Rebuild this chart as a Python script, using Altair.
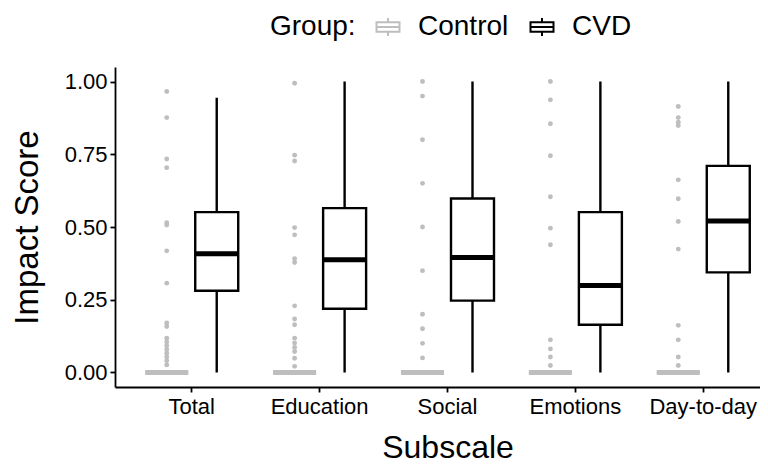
import altair as alt
import pandas as pd

subscales = ["Total", "Education", "Social", "Emotions", "Day-to-day"]
groups = ["Control", "CVD"]

# CVD box statistics
cvd_low = [0.0, 0.0, 0.0, 0.0, 0.0]
cvd_q1 = [0.281, 0.219, 0.247, 0.164, 0.344]
cvd_median = [0.408, 0.387, 0.395, 0.299, 0.521]
cvd_q3 = [0.551, 0.565, 0.598, 0.551, 0.710]
cvd_high = [0.944, 1.0, 1.0, 1.0, 1.0]

# Control box statistics (all collapsed at zero)
control_low = [0.0, 0.0, 0.0, 0.0, 0.0]
control_q1 = [0.0, 0.0, 0.0, 0.0, 0.0]
control_median = [0.0, 0.0, 0.0, 0.0, 0.0]
control_q3 = [0.0, 0.0, 0.0, 0.0, 0.0]
control_high = [0.0, 0.0, 0.0, 0.0, 0.0]

# Control outliers
out_total = [0.966, 0.876, 0.734, 0.704, 0.515, 0.507, 0.418, 0.307, 0.170, 0.158,
             0.118, 0.105, 0.092, 0.079, 0.066, 0.053, 0.040, 0.026]
out_education = [0.994, 0.747, 0.727, 0.498, 0.473, 0.391, 0.378, 0.229, 0.184, 0.164,
                 0.118, 0.101, 0.086, 0.072, 0.049, 0.021]
out_social = [1.0, 0.95, 0.8, 0.65, 0.5, 0.35, 0.2, 0.15, 0.1, 0.05]
out_emotions = [1.0, 0.937, 0.855, 0.745, 0.604, 0.496, 0.439, 0.112, 0.081, 0.053, 0.024]
out_daytoday = [0.914, 0.876, 0.860, 0.849, 0.662, 0.597, 0.519, 0.424, 0.162, 0.112, 0.053, 0.024]

stats = pd.DataFrame({
    "Subscale": subscales * 2,
    "Group": ["Control"] * 5 + ["CVD"] * 5,
    "low": control_low + cvd_low,
    "q1": control_q1 + cvd_q1,
    "median": control_median + cvd_median,
    "q3": control_q3 + cvd_q3,
    "high": control_high + cvd_high,
})

outlier_lists = [out_total, out_education, out_social, out_emotions, out_daytoday]
rows = []
for s, vals in zip(subscales, outlier_lists):
    for v in vals:
        rows.append({"Subscale": s, "Group": "Control", "value": v})
outliers = pd.DataFrame(rows)

FONT = "Liberation Sans"
GRAY = "#bebebe"
stroke_scale = alt.Scale(domain=groups, range=[GRAY, "#000000"])

# The x range runs past the visible plot edge (the reference is cropped at the right)
x_enc = alt.X(
    "Subscale:N",
    sort=subscales,
    scale=alt.Scale(domain=subscales, paddingInner=0, paddingOuter=0.1, range=[0, 665]),
    axis=alt.Axis(title="Subscale", labelAngle=0, titleFontSize=32),
)
xoff_enc = alt.XOffset(
    "Group:N",
    sort=groups,
    scale=alt.Scale(domain=groups, paddingInner=0.14, paddingOuter=0.349),
)
y_scale = alt.Scale(domain=[-0.05, 1.05], nice=False, zero=False)
y_axis = alt.Axis(title="Impact Score", values=[0, 0.25, 0.5, 0.75, 1.0], format=".2f")

box_path = ("M0,-0.78 L0,-0.42 M-1,-0.42 L1,-0.42 L1,0.42 L-1,0.42 Z "
            "M-1,0 L1,0 M0,0.42 L0,0.78")

legend = alt.Legend(
    title="Group:", orient="none", legendX=155, legendY=-54,
    direction="horizontal", titleOrient="left",
    titleFontSize=28, labelFontSize=28, titleFontWeight="normal",
    titleFont=FONT, labelFont=FONT, titleColor="black", labelColor="black",
    symbolType=box_path, symbolSize=529, symbolStrokeWidth=2,
    symbolFillColor="white",
    labelOffset=16, columnPadding=17, titlePadding=18, padding=0,
)
stroke_enc = alt.Stroke("Group:N", scale=stroke_scale, legend=legend)

base = alt.Chart(stats)

whiskers = base.mark_rule(strokeWidth=2.4).encode(
    x=x_enc, xOffset=xoff_enc,
    y=alt.Y("low:Q", scale=y_scale, axis=y_axis),
    y2="high:Q",
    stroke=stroke_enc,
)

boxes = base.mark_bar(fill="white", strokeWidth=2.4).encode(
    x=x_enc, xOffset=xoff_enc,
    y=alt.Y("q1:Q", scale=y_scale, axis=y_axis),
    y2="q3:Q",
    stroke=stroke_enc,
)

medians = base.mark_bar(fill="white", strokeWidth=5).encode(
    x=x_enc, xOffset=xoff_enc,
    y=alt.Y("median:Q", scale=y_scale, axis=y_axis),
    y2="median:Q",
    stroke=stroke_enc,
)

points = alt.Chart(outliers).mark_circle(size=24, opacity=1, color=GRAY).encode(
    x=x_enc, xOffset=xoff_enc,
    y=alt.Y("value:Q", scale=y_scale, axis=y_axis),
)

chart = alt.layer(whiskers, boxes, medians, points).properties(
    width=645,
    height=320,
    autosize=alt.AutoSizeParams(type="none"),
    padding={"left": 107, "top": 59, "right": 0, "bottom": 78},
    background="white",
).configure_view(
    stroke=None,
).configure_axis(
    grid=False,
    domainColor="black",
    domainWidth=1.8,
    tickColor="black",
    tickWidth=1.8,
    tickSize=5,
    labelFont=FONT,
    titleFont=FONT,
    labelFontSize=22,
    titleFontSize=33,
    titleFontWeight="normal",
    labelColor="black",
    titleColor="black",
).configure_axisX(
    labelPadding=4,
    titlePadding=15,
).configure_axisY(
    labelPadding=3,
    titlePadding=20,
)

chart.save("out.html", embed_options={"renderer": "svg", "actions": False})
